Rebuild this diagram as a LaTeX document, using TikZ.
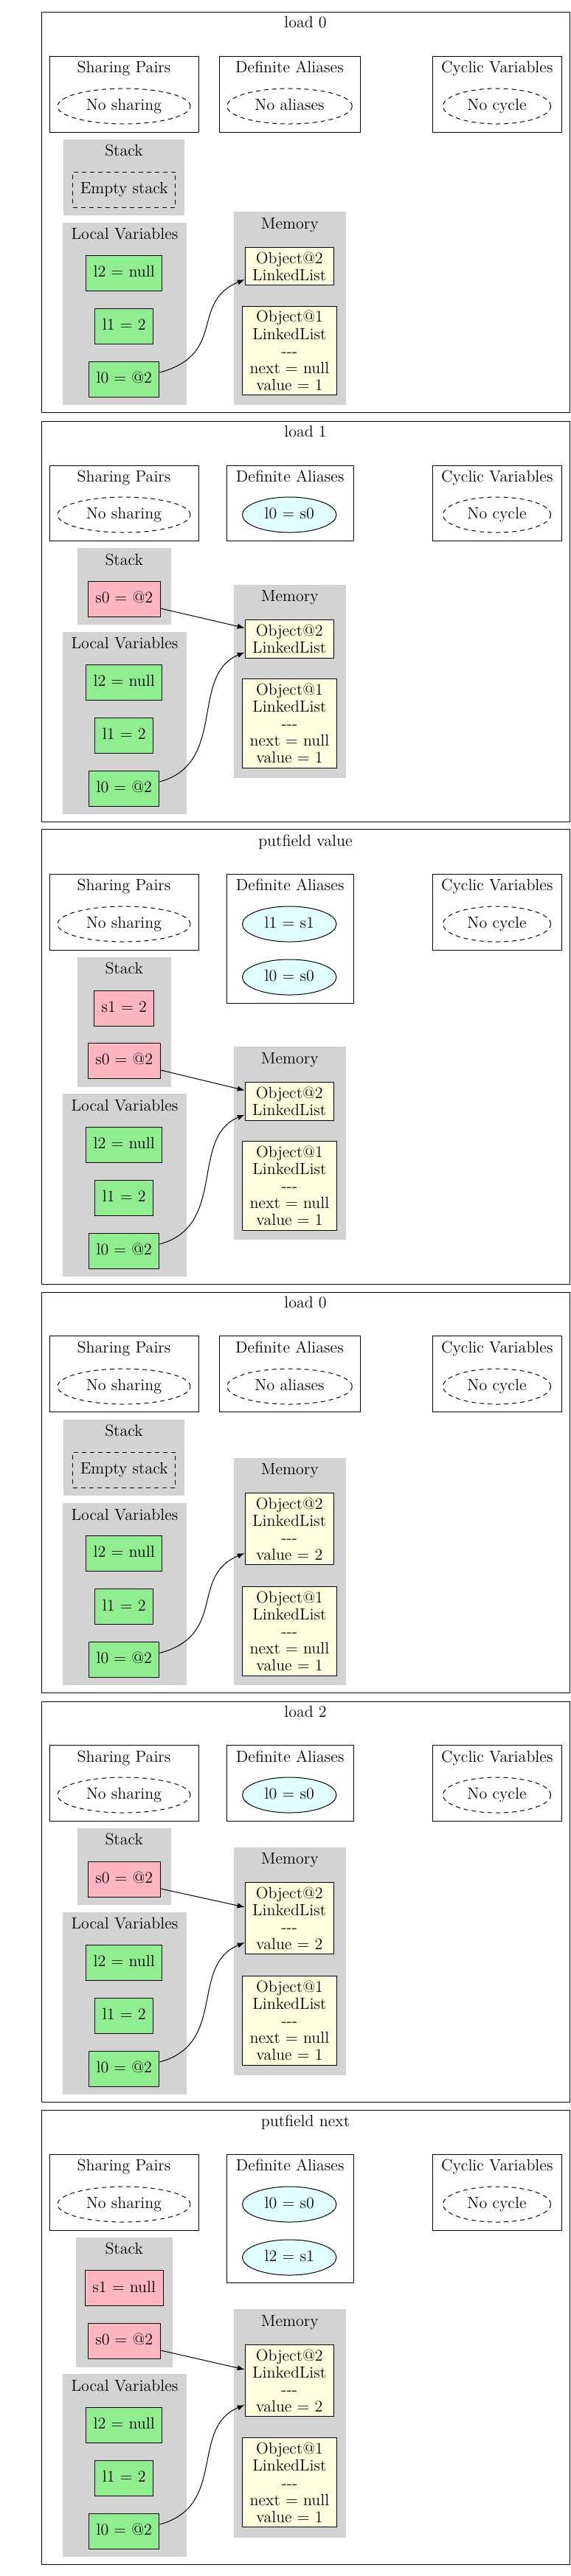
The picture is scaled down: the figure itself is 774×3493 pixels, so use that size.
\documentclass[tikz,border=0pt]{standalone}
\usetikzlibrary{shapes.geometric, arrows.meta}

\definecolor{lgray}{HTML}{D3D3D3}
\definecolor{lgreen}{HTML}{90EE90}
\definecolor{lpink}{HTML}{FFB6C1}
\definecolor{lyellow}{HTML}{FFFFE0}
\definecolor{lcyan}{HTML}{E0FFFF}

\begin{document}
\begin{tikzpicture}[x=0.5pt, y=-0.5pt, line width=0.5pt,
  every node/.style={font=\fontsize{11}{11.55}\selectfont},
  heading/.style={text height=7.6pt, text depth=2.2pt, inner sep=0pt},
  localvar/.style={draw, fill=lgreen, minimum height=24pt, inner xsep=5pt, text height=7.6pt, text depth=2.2pt},
  stackvar/.style={localvar, fill=lpink},
  emptystack/.style={draw, dash pattern=on 3pt off 2.5pt, minimum height=24pt, inner xsep=5pt, text height=7.6pt, text depth=2.2pt},
  noinfo/.style={ellipse, draw, dash pattern=on 3pt off 2.5pt, minimum height=24pt, inner sep=0pt, text height=7.6pt, text depth=2.2pt},
  defalias/.style={ellipse, draw, fill=lcyan, minimum width=63.75pt, minimum height=24pt, inner sep=0pt, text height=7.6pt, text depth=2.2pt},
  obj/.style={draw, fill=lyellow, align=center, inner xsep=5pt, inner ysep=3.2pt},
  pointer/.style={-{Latex[length=5pt, width=3.6pt]}}]
\useasboundingbox (0,0) rectangle (774,3493);

% Panel 1: load 0
\draw (56.5,16) rectangle (772,559);
\node[heading] (t1) at (414,32) {load 0};
\draw (67.5,76) rectangle (269,179);
\node[heading] (sp1) at (168,93) {Sharing Pairs};
\node[noinfo, minimum width=90pt] (ns1) at (168,144) {No sharing};
\draw (297,76) rectangle (488,179);
\node[heading] (da1) at (392.5,93) {Definite Aliases};
\node[noinfo, minimum width=84.75pt] (na1) at (392.5,144) {No aliases};
\draw (586.5,76) rectangle (761,179);
\node[heading] (cv1) at (673.75,93) {Cyclic Variables};
\node[noinfo, minimum width=73pt] (nc1) at (673.5,144) {No cycle};
\fill[lgray] (86,189) rectangle (250,292);
\node[heading] (st1) at (168,206) {Stack};
\node[emptystack] (es1) at (168.25,257) {Empty stack};
\fill[lgray] (317,287) rectangle (468.5,549);
\node[heading] (mem1) at (392.75,305) {Memory};
\node[obj] (o2p1) at (392.25,361) {Object@2\\LinkedList};
\node[obj] (o1p1) at (392.5,475.5) {Object@1\\LinkedList\\{-}{-}{-}\\next = null\\value = 1};
\fill[lgray] (85,302) rectangle (253,549);
\node[heading] (lv1) at (169,319) {Local Variables};
\node[localvar] (l2p1) at (168.25,370.5) {l2 = null};
\node[localvar] (l1p1) at (168.25,442) {l1 = 2};
\node[localvar] (l0p1) at (168.25,514) {l0 = @2};
\draw[pointer] ([yshift=4.5pt]l0p1.east) .. controls +(92,-25) and +(-75,31) .. ([yshift=-9pt]o2p1.west);

% Panel 2: load 1
\draw (56.5,571) rectangle (772,1114.6);
\node[heading] (t2) at (414,587.5) {load 1};
\draw (67.5,631) rectangle (269,733);
\node[heading] (sp2) at (168,648) {Sharing Pairs};
\node[noinfo, minimum width=90pt] (ns2) at (168,698) {No sharing};
\draw (307.5,631) rectangle (479,733);
\node[heading] (da2) at (393.25,648) {Definite Aliases};
\node[defalias] (al0p2) at (392.25,698) {l0 = s0};
\draw (586.5,631) rectangle (761,733);
\node[heading] (cv2) at (673.75,648) {Cyclic Variables};
\node[noinfo, minimum width=73pt] (nc2) at (673.5,698) {No cycle};
\fill[lgray] (105,743) rectangle (231.5,847);
\node[heading] (st2) at (168.25,761) {Stack};
\node[stackvar] (s0p2) at (168.25,812) {s0 = @2};
\fill[lgray] (317,792.5) rectangle (468.5,1055);
\node[heading] (mem2) at (392.75,810) {Memory};
\node[obj] (o2p2) at (392.25,866.5) {Object@2\\LinkedList};
\node[obj] (o1p2) at (392.5,981) {Object@1\\LinkedList\\{-}{-}{-}\\next = null\\value = 1};
\fill[lgray] (85,857) rectangle (253,1104);
\node[heading] (lv2) at (169,874) {Local Variables};
\node[localvar] (l2p2) at (168.25,925) {l2 = null};
\node[localvar] (l1p2) at (168.25,997) {l1 = 2};
\node[localvar] (l0p2) at (168.25,1069) {l0 = @2};
\draw[pointer] ([yshift=-6.5pt]s0p2.east) -- ([yshift=7.5pt]o2p2.west);
\draw[pointer] ([yshift=4.5pt]l0p2.east) .. controls +(92,-25) and +(-75,31) .. ([yshift=-9pt]o2p2.west);

% Panel 3: putfield value
\draw (56.5,1124.6) rectangle (772,1741.3);
\node[heading] (t3) at (414,1142) {putfield value};
\draw (67.5,1185) rectangle (269,1288);
\node[heading] (sp3) at (168,1202) {Sharing Pairs};
\node[noinfo, minimum width=90pt] (ns3) at (168,1253) {No sharing};
\draw (307.5,1185) rectangle (479,1360);
\node[heading] (da3) at (393.25,1202) {Definite Aliases};
\node[defalias] (al1p3) at (392.25,1253) {l1 = s1};
\node[defalias] (al0p3) at (392.25,1325) {l0 = s0};
\draw (586.5,1185) rectangle (761,1288);
\node[heading] (cv3) at (673.75,1202) {Cyclic Variables};
\node[noinfo, minimum width=73pt] (nc3) at (673.5,1253) {No cycle};
\fill[lgray] (105,1298) rectangle (231.5,1474);
\node[heading] (st3) at (168.25,1315) {Stack};
\node[stackvar] (s1p3) at (168.25,1367) {s1 = 2};
\node[stackvar] (s0p3) at (168.25,1438) {s0 = @2};
\fill[lgray] (317,1419) rectangle (468.5,1681);
\node[heading] (mem3) at (392.75,1437) {Memory};
\node[obj] (o2p3) at (392.25,1493.5) {Object@2\\LinkedList};
\node[obj] (o1p3) at (392.5,1608) {Object@1\\LinkedList\\{-}{-}{-}\\next = null\\value = 1};
\fill[lgray] (85,1483) rectangle (253,1731);
\node[heading] (lv3) at (169,1501) {Local Variables};
\node[localvar] (l2p3) at (168.25,1552) {l2 = null};
\node[localvar] (l1p3) at (168.25,1624) {l1 = 2};
\node[localvar] (l0p3) at (168.25,1696) {l0 = @2};
\draw[pointer] ([yshift=-6.5pt]s0p3.east) -- ([yshift=7.5pt]o2p3.west);
\draw[pointer] ([yshift=4.5pt]l0p3.east) .. controls +(92,-25) and +(-75,31) .. ([yshift=-9pt]o2p3.west);

% Panel 4: load 0
\draw (56.5,1752.4) rectangle (772,2295.6);
\node[heading] (t4) at (414,1768) {load 0};
\draw (67.5,1811.7) rectangle (269,1914.5);
\node[heading] (sp4) at (168,1829) {Sharing Pairs};
\node[noinfo, minimum width=90pt] (ns4) at (168,1880) {No sharing};
\draw (297,1811.7) rectangle (488,1914.5);
\node[heading] (da4) at (392.5,1829) {Definite Aliases};
\node[noinfo, minimum width=84.75pt] (na4) at (392.5,1880) {No aliases};
\draw (586.5,1811.7) rectangle (761,1914.5);
\node[heading] (cv4) at (673.75,1829) {Cyclic Variables};
\node[noinfo, minimum width=73pt] (nc4) at (673.5,1880) {No cycle};
\fill[lgray] (86,1924.8) rectangle (250,2028.4);
\node[heading] (st4) at (168,1942) {Stack};
\node[emptystack] (es4) at (168.25,1993) {Empty stack};
\fill[lgray] (317,1976.6) rectangle (468.5,2285.4);
\node[heading] (mem4) at (392.75,1994) {Memory};
\node[obj] (o2p4) at (392.25,2073) {Object@2\\LinkedList\\{-}{-}{-}\\value = 2};
\node[obj] (o1p4) at (392.5,2211.7) {Object@1\\LinkedList\\{-}{-}{-}\\next = null\\value = 1};
\fill[lgray] (85,2038) rectangle (253,2285.4);
\node[heading] (lv4) at (169,2055.6) {Local Variables};
\node[localvar] (l2p4) at (168.25,2106.5) {l2 = null};
\node[localvar] (l1p4) at (168.25,2178.6) {l1 = 2};
\node[localvar] (l0p4) at (168.25,2250.5) {l0 = @2};
\draw[pointer] ([yshift=4.5pt]l0p4.east) .. controls +(92,-25) and +(-75,31) .. ([yshift=-16.5pt]o2p4.west);

% Panel 5: load 2
\draw (56.5,2307) rectangle (772,2850);
\node[heading] (t5) at (414,2323) {load 2};
\draw (67.5,2366.8) rectangle (269,2469);
\node[heading] (sp5) at (168,2384) {Sharing Pairs};
\node[noinfo, minimum width=90pt] (ns5) at (168,2434) {No sharing};
\draw (307.5,2366.8) rectangle (479,2469);
\node[heading] (da5) at (393.25,2384) {Definite Aliases};
\node[defalias] (al0p5) at (392.25,2434) {l0 = s0};
\draw (586.5,2366.8) rectangle (761,2469);
\node[heading] (cv5) at (673.75,2384) {Cyclic Variables};
\node[noinfo, minimum width=73pt] (nc5) at (673.5,2434) {No cycle};
\fill[lgray] (105,2479) rectangle (231.5,2582.7);
\node[heading] (st5) at (168.25,2496) {Stack};
\node[stackvar] (s0p5) at (168.25,2548) {s0 = @2};
\fill[lgray] (317,2504.8) rectangle (468.5,2813.7);
\node[heading] (mem5) at (392.75,2522) {Memory};
\node[obj] (o2p5) at (392.25,2601) {Object@2\\LinkedList\\{-}{-}{-}\\value = 2};
\node[obj] (o1p5) at (392.5,2740) {Object@1\\LinkedList\\{-}{-}{-}\\next = null\\value = 1};
\fill[lgray] (85,2592.5) rectangle (253,2840);
\node[heading] (lv5) at (169,2610) {Local Variables};
\node[localvar] (l2p5) at (168.25,2661) {l2 = null};
\node[localvar] (l1p5) at (168.25,2733) {l1 = 2};
\node[localvar] (l0p5) at (168.25,2805) {l0 = @2};
\draw[pointer] ([yshift=-6.5pt]s0p5.east) -- ([yshift=7.5pt]o2p5.west);
\draw[pointer] ([yshift=4.5pt]l0p5.east) .. controls +(92,-25) and +(-75,31) .. ([yshift=-16.5pt]o2p5.west);

% Panel 6: putfield next
\draw (56.5,2861) rectangle (772,3477);
\node[heading] (t6) at (414,2878) {putfield next};
\draw (67.5,2921.4) rectangle (269,3024);
\node[heading] (sp6) at (168,2938) {Sharing Pairs};
\node[noinfo, minimum width=90pt] (ns6) at (168,2989) {No sharing};
\draw (307.5,2921.4) rectangle (479,3095.8);
\node[heading] (da6) at (393.25,2938) {Definite Aliases};
\node[defalias] (al0p6) at (392.25,2989) {l0 = s0};
\node[defalias] (al2p6) at (392.25,3061) {l2 = s1};
\draw (586.5,2921.4) rectangle (761,3024);
\node[heading] (cv6) at (673.75,2938) {Cyclic Variables};
\node[noinfo, minimum width=73pt] (nc6) at (673.5,2989) {No cycle};
\fill[lgray] (102.5,3034.4) rectangle (233.5,3209.6);
\node[heading] (st6) at (168.25,3051) {Stack};
\node[stackvar] (s1p6) at (168.25,3102.7) {s1 = null};
\node[stackvar] (s0p6) at (168.25,3174) {s0 = @2};
\fill[lgray] (317,3131.3) rectangle (468.5,3440.5);
\node[heading] (mem6) at (392.75,3149) {Memory};
\node[obj] (o2p6) at (392.25,3228) {Object@2\\LinkedList\\{-}{-}{-}\\value = 2};
\node[obj] (o1p6) at (392.5,3366.4) {Object@1\\LinkedList\\{-}{-}{-}\\next = null\\value = 1};
\fill[lgray] (85,3219.3) rectangle (253,3466.8);
\node[heading] (lv6) at (169,3236.7) {Local Variables};
\node[localvar] (l2p6) at (168.25,3288) {l2 = null};
\node[localvar] (l1p6) at (168.25,3360) {l1 = 2};
\node[localvar] (l0p6) at (168.25,3432) {l0 = @2};
\draw[pointer] ([yshift=-6.5pt]s0p6.east) -- ([yshift=7.5pt]o2p6.west);
\draw[pointer] ([yshift=4.5pt]l0p6.east) .. controls +(92,-25) and +(-75,31) .. ([yshift=-16.5pt]o2p6.west);
\end{tikzpicture}
\end{document}
